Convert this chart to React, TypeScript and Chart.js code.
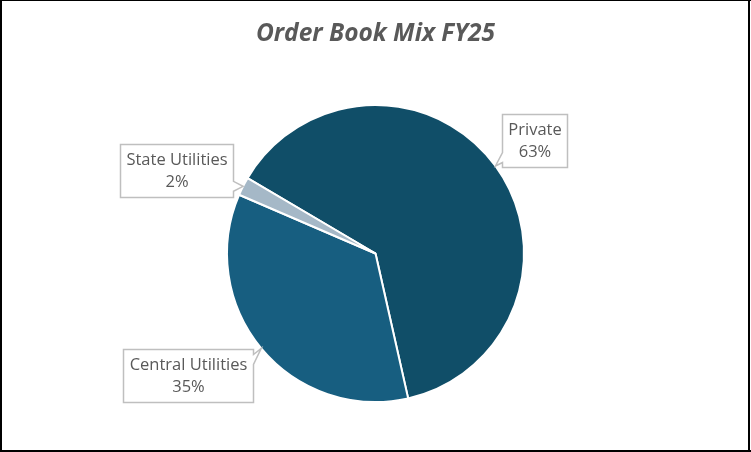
import React, { useEffect, useRef } from "react";
import { Chart, registerables } from "chart.js";

Chart.register(...registerables);

const categories = ["Private", "Central Utilities", "State Utilities"];
const shares = [63, 35, 2];
const pctLabels = ["63%", "35%", "2%"];
const sliceColors = ["#104E68", "#175E80", "#A5B8C7"];
const titleText = "Order Book Mix FY25";
// callout box centre offsets from the slice's outer-edge anchor (layout only)
const calloutOffsets = [
  [39.5, -26],
  [-73, 27],
  [-66.5, -16],
];

const TEXT_COLOR = "#595959";
const LABEL_FONT = '16.5px "Open Sans"';
const TITLE_FONT = 'italic bold 24.5px "Open Sans"';

const decorPlugin = {
  id: "decor",
  afterDatasetsDraw(chart: any) {
    const ctx: CanvasRenderingContext2D = chart.ctx;
    const meta = chart.getDatasetMeta(0);
    ctx.save();
    ctx.font = LABEL_FONT;
    meta.data.forEach((arc: any, i: number) => {
      const p = arc.getProps(["x", "y", "startAngle", "endAngle", "outerRadius"], true);
      const mid = (p.startAngle + p.endAngle) / 2;
      const tx = p.x + Math.cos(mid) * p.outerRadius;
      const ty = p.y + Math.sin(mid) * p.outerRadius;
      const l1 = categories[i];
      const l2 = pctLabels[i];
      const tw = Math.max(ctx.measureText(l1).width, ctx.measureText(l2).width);
      const bw = Math.round(tw + 12);
      const bh = 53;
      const cx = tx + calloutOffsets[i][0];
      const cy = ty + calloutOffsets[i][1];
      const L = Math.round(cx - bw / 2) + 0.5;
      const R = L + bw;
      const T = Math.round(cy - bh / 2) + 0.5;
      const B = T + bh;
      const hw = 5;
      const m = 10;
      let side = "bottom";
      if (tx > R) side = "right";
      else if (tx < L) side = "left";
      else if (ty < T) side = "top";
      ctx.beginPath();
      ctx.moveTo(L, T);
      if (side === "top") {
        const c = Math.min(Math.max(tx, L + m), R - m);
        ctx.lineTo(c - hw, T);
        ctx.lineTo(tx, ty);
        ctx.lineTo(c + hw, T);
      }
      ctx.lineTo(R, T);
      if (side === "right") {
        const c = Math.min(Math.max(ty, T + m), B - m);
        ctx.lineTo(R, c - hw);
        ctx.lineTo(tx, ty);
        ctx.lineTo(R, c + hw);
      }
      ctx.lineTo(R, B);
      if (side === "bottom") {
        const c = Math.min(Math.max(tx, L + m), R - m);
        ctx.lineTo(c + hw, B);
        ctx.lineTo(tx, ty);
        ctx.lineTo(c - hw, B);
      }
      ctx.lineTo(L, B);
      if (side === "left") {
        const c = Math.min(Math.max(ty, T + m), B - m);
        ctx.lineTo(L, c + hw);
        ctx.lineTo(tx, ty);
        ctx.lineTo(L, c - hw);
      }
      ctx.closePath();
      ctx.fillStyle = "#FFFFFF";
      ctx.fill();
      ctx.strokeStyle = "#BFBFBF";
      ctx.lineWidth = 1.5;
      ctx.stroke();
      ctx.fillStyle = TEXT_COLOR;
      ctx.textAlign = "center";
      ctx.textBaseline = "middle";
      const mx = (L + R) / 2;
      const my = (T + B) / 2;
      ctx.fillText(l1, mx, my - 11);
      ctx.fillText(l2, mx, my + 11);
    });
    // title
    ctx.font = TITLE_FONT;
    ctx.fillStyle = TEXT_COLOR;
    ctx.textAlign = "center";
    ctx.textBaseline = "middle";
    ctx.fillText(titleText, chart.width / 2, 34.5);
    // outer frame
    ctx.fillStyle = "#000000";
    ctx.fillRect(0, 0, chart.width, 1);
    ctx.fillRect(0, 0, 2, chart.height);
    ctx.fillRect(chart.width - 3, 0, 2, chart.height);
    ctx.fillRect(0, chart.height - 2, chart.width, 2);
    ctx.restore();
  },
};

export default function App() {
  const ref = useRef<HTMLCanvasElement | null>(null);
  useEffect(() => {
    if (!ref.current) return;
    const chart = new Chart(ref.current, {
      type: "pie",
      data: {
        labels: categories,
        datasets: [
          {
            data: shares,
            backgroundColor: sliceColors,
            borderColor: "#FFFFFF",
            borderWidth: 2,
            hoverOffset: 0,
            offset: 0,
          },
        ],
      },
      options: {
        responsive: false,
        animation: false,
        rotation: -59.5,
        layout: { padding: { top: 104, bottom: 49, left: 0, right: 0 } },
        plugins: {
          legend: { display: false },
          title: { display: false },
          tooltip: { enabled: false },
        },
      },
      plugins: [decorPlugin],
    });
    return () => chart.destroy();
  }, []);
  return (
    <div style={{ position: "absolute", left: 0, top: 0, width: 751, height: 452, background: "#FFFFFF" }}>
      <canvas ref={ref} width={751} height={452} style={{ display: "block", width: 751, height: 452 }} />
    </div>
  );
}
